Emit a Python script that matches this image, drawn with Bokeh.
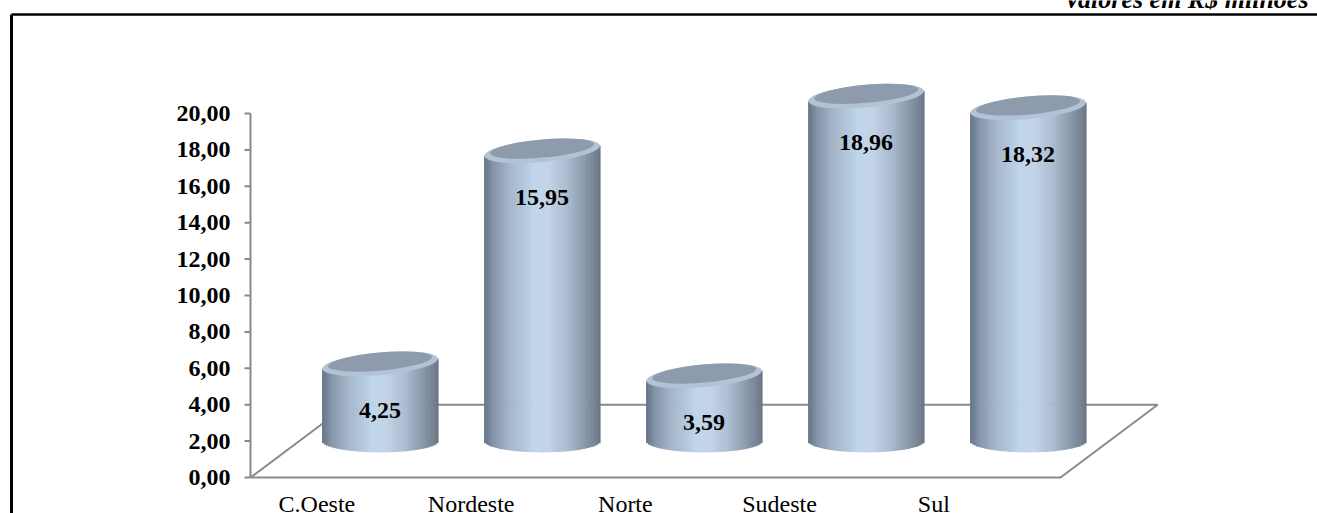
import numpy as np
from bokeh.plotting import figure
from bokeh.models import Range1d
from bokeh.core.properties import value
from bokeh.embed import file_html
from bokeh.resources import INLINE

# ---------------- data ----------------
categories = ["C.Oeste", "Nordeste", "Norte", "Sudeste", "Sul"]
values = [4.25, 15.95, 3.59, 18.96, 18.32]
value_labels = ["4,25", "15,95", "3,59", "18,96", "18,32"]
y_ticks = [0, 2, 4, 6, 8, 10, 12, 14, 16, 18, 20]
y_tick_labels = ["0,00", "2,00", "4,00", "6,00", "8,00", "10,00",
                 "12,00", "14,00", "16,00", "18,00", "20,00"]
title_text = "Valores em R$ milhões"

# ---------------- layout ----------------
W, H = 1317, 513
ORIGIN_X, ORIGIN_Y = 250, 477     # screen position of (0, 0)
SLOT_PX = 162                     # pixels per category slot
UNIT_PX = 18.2                    # pixels per value unit
DEPTH_X, DEPTH_Y = 0.6, 4.0       # 3D floor depth (slots, value units)
FONT = "Liberation Serif"

def dx(px):  # screen x -> data x
    return (px - ORIGIN_X) / SLOT_PX

def dy(py):  # screen y -> data y
    return (ORIGIN_Y - py) / UNIT_PX

p = figure(width=W, height=H, output_backend="svg", toolbar_location=None,
           x_range=Range1d(dx(0), dx(W)), y_range=Range1d(dy(H), dy(0)),
           x_axis_location=None, y_axis_location=None, min_border=0,
           outline_line_color=None, background_fill_color="white",
           border_fill_color="white")
p.grid.visible = False

# ---------------- page border & title ----------------
p.line([dx(11), dx(11)], [dy(H + 5), dy(14)], line_color="black", line_width=3)
p.line([dx(11), dx(W + 5)], [dy(14), dy(14)], line_color="black", line_width=2.5)
p.text([dx(1308)], [dy(-1)], text=[title_text], text_font=value(FONT),
       text_font_size="26px", text_font_style="bold italic",
       text_align="right", text_baseline="middle", text_color="black")

# ---------------- floor ----------------
n = len(categories)
floor_x = [0, n, n + DEPTH_X, DEPTH_X, 0]
floor_y = [0, 0, DEPTH_Y, DEPTH_Y, 0]
p.line(floor_x, floor_y, line_color="#8a8a8a", line_width=2)

# ---------------- y axis ----------------
p.line([0, 0], [y_ticks[0], y_ticks[-1]], line_color="#8a8a8a", line_width=2)
p.segment(x0=[dx(ORIGIN_X - 6)] * len(y_ticks), y0=y_ticks,
          x1=[0] * len(y_ticks), y1=y_ticks, line_color="#8a8a8a", line_width=2)
p.text([dx(ORIGIN_X - 20)] * len(y_ticks), y_ticks, text=y_tick_labels,
       text_font=value(FONT), text_font_size="24px", text_font_style="bold",
       text_align="right", text_baseline="middle", text_color="black")

# ---------------- category labels ----------------
LABEL_X0, LABEL_STEP = 0.41, 0.952
p.text([LABEL_X0 + LABEL_STEP * i for i in range(n)], [dy(503)] * n,
       text=categories, text_font=value(FONT), text_font_size="24px",
       text_align="center", text_baseline="middle", text_color="black")

# ---------------- cylinders ----------------
stops = [(0.00, (0x66, 0x75, 0x88)), (0.07, (0x85, 0x96, 0xab)),
         (0.22, (0xa4, 0xb5, 0xca)), (0.42, (0xbd, 0xd4, 0xe9)),
         (0.56, (0xc4, 0xd3, 0xe8)), (0.72, (0xaa, 0xba, 0xce)),
         (0.87, (0x8b, 0x9b, 0xae)), (1.00, (0x68, 0x75, 0x85))]

def grad(t):
    for (t0, c0), (t1, c1) in zip(stops[:-1], stops[1:]):
        if t <= t1:
            f = (t - t0) / (t1 - t0)
            return "#%02x%02x%02x" % tuple(int(round(a + (b - a) * f)) for a, b in zip(c0, c1))
    return "#%02x%02x%02x" % stops[-1][1]

N_STRIP = 60
HALF_W = 0.358          # half width of a cylinder in slots
B_ELL = 0.62            # ellipse semi-minor axis (value units)
TILT = 0.09             # perspective tilt of top ellipse (radians)

L, R, T, B, C = [], [], [], [], []
cxs, tops = [], []
for i, v in enumerate(values):
    cx = i + 0.5 + DEPTH_X / 2
    base = DEPTH_Y / 2
    top = base + v
    cxs.append(cx)
    tops.append(top)
    edges = np.linspace(cx - HALF_W, cx + HALF_W, N_STRIP + 1)
    for k in range(N_STRIP):
        xl, xr = edges[k], edges[k + 1]
        xm = 0.5 * (xl + xr)
        u = (xm - cx) / HALF_W
        ybot = base - B_ELL * np.sqrt(max(0.0, 1 - u * u))
        ytop = top + (xm - cx) * SLOT_PX * np.tan(TILT) / UNIT_PX
        L.append(xl)
        R.append(xr + 0.003)
        T.append(ytop)
        B.append(ybot)
        C.append(grad(k / (N_STRIP - 1)))

p.quad(left=L, right=R, top=T, bottom=B, fill_color=C, line_color=None)

# top caps: light rim + darker face
p.ellipse(x=cxs, y=tops, width=2 * HALF_W, height=2 * B_ELL, angle=TILT,
          fill_color="#b3c3d5", line_color=None)
p.ellipse(x=cxs, y=[t + 0.12 for t in tops], width=2 * HALF_W * 0.9,
          height=2 * B_ELL * 0.8, angle=TILT, fill_color="#8d9bad", line_color=None)

# value labels
p.text(cxs, [t - 2.55 for t in tops], text=value_labels, text_font=value(FONT),
       text_font_size="24px", text_font_style="bold", text_align="center",
       text_baseline="middle", text_color="black")

open("out.html", "w").write(file_html(p, INLINE))
